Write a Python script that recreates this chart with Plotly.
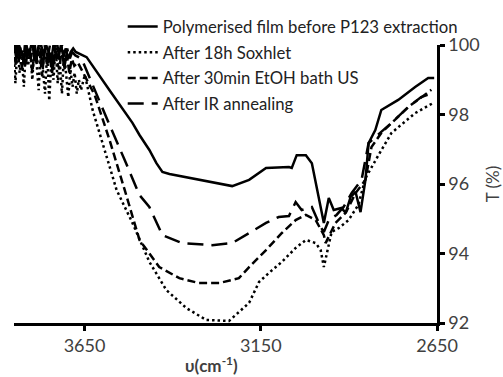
import plotly.graph_objects as go

# Wavenumbers (cm-1) and transmittance (%)
film_x = [3850, 3843, 3836, 3829, 3822, 3815, 3808, 3801, 3794, 3787, 3780, 3773,
          3766, 3759, 3752, 3745, 3738, 3731, 3724, 3717, 3710, 3703, 3696, 3689,
          3682, 3675, 3644, 3579, 3514, 3494, 3466, 3446, 3429, 3409, 3361, 3325,
          3282, 3231, 3183, 3135, 3070, 3062, 3048, 3022, 3005, 2986, 2971, 2957,
          2943, 2921, 2909, 2895, 2881, 2867, 2853, 2844, 2825, 2808, 2760, 2712,
          2675, 2658]
film_y = [100, 99.6, 100, 99.8, 99.5, 100, 99.7, 100, 99.9, 99.6, 100, 100,
          99.7, 100, 99.8, 99.5, 100, 99.8, 99.6, 100, 99.7, 99.9, 99.6, 99.8,
          99.9, 99.8, 99.65, 98.70, 97.76, 97.41, 96.98, 96.60, 96.35, 96.29, 96.20, 96.12,
          96.03, 95.94, 96.12, 96.46, 96.49, 96.46, 96.83, 96.83, 96.60, 95.63, 94.88, 95.60,
          95.25, 95.31, 95.17, 95.63, 95.77, 95.19, 96.12, 97.18, 97.55, 98.13, 98.42, 98.79,
          99.05, 99.05]

soxhlet_x = [3850, 3846, 3840, 3834, 3828, 3822, 3816, 3810, 3804, 3798, 3792, 3786,
             3780, 3774, 3768, 3762, 3756, 3750, 3744, 3738, 3732, 3726, 3720, 3714,
             3708, 3702, 3696, 3690, 3684, 3678, 3672, 3666, 3660, 3649, 3627, 3593,
             3559, 3514, 3466, 3418, 3361, 3305, 3240, 3183, 3155, 3127, 3090, 3051,
             3022, 2994, 2980, 2971, 2963, 2949, 2929, 2901, 2873, 2853, 2816, 2779,
             2712, 2661]
soxhlet_y = [99.6, 98.9, 100, 99.2, 99.7, 98.8, 100, 99.4, 99.9, 99.0, 100, 99.5,
             98.7, 100, 99.3, 98.6, 99.8, 98.4, 99.6, 99.0, 100, 98.9, 99.5, 98.6,
             99.8, 99.1, 98.5, 99.3, 98.8, 99.2, 98.6, 99.0, 98.7, 99.14, 98.13, 96.98,
             95.83, 94.88, 93.76, 92.95, 92.43, 92.09, 92.06, 92.58, 93.18, 93.44, 93.76, 94.16,
             94.39, 94.30, 94.10, 93.61, 93.96, 94.62, 94.73, 94.96, 95.40, 96.17, 96.83, 97.47,
             98.04, 98.33]

etoh_x = [3850, 3845, 3839, 3833, 3826, 3819, 3812, 3805, 3798, 3791, 3784, 3777,
          3770, 3763, 3756, 3749, 3742, 3735, 3728, 3721, 3714, 3707, 3700, 3693,
          3686, 3679, 3669, 3621, 3579, 3536, 3494, 3438, 3381, 3325, 3268, 3212,
          3183, 3135, 3090, 3051, 3022, 2994, 2971, 2966, 2938, 2909, 2881, 2853,
          2836, 2808, 2731, 2666]
etoh_y = [100, 99.4, 100, 99.7, 99.3, 100, 99.6, 99.9, 99.2, 100, 99.5, 99.8,
          99.1, 100, 99.4, 99.7, 99.2, 100, 99.5, 99.3, 100, 99.4, 99.7, 99.2,
          99.6, 99.4, 99.5, 98.56, 97.27, 95.83, 94.39, 93.61, 93.29, 93.15, 93.15, 93.29,
          93.61, 94.10, 94.59, 94.96, 95.11, 94.96, 94.53, 94.30, 94.88, 95.17, 95.74, 96.12,
          97.06, 97.47, 98.22, 98.71]

ir_x = [3850, 3844, 3837, 3831, 3824, 3817, 3811, 3804, 3797, 3790, 3783, 3776,
        3769, 3762, 3755, 3748, 3741, 3734, 3727, 3720, 3713, 3706, 3699, 3692,
        3685, 3676, 3658, 3621, 3579, 3536, 3494, 3466, 3446, 3429, 3373, 3288,
        3231, 3183, 3135, 3099, 3070, 3051, 3034, 3005, 2980, 2971, 2957, 2935,
        2915, 2892, 2864, 2844, 2779, 2731, 2695, 2661]
ir_y = [99.8, 100, 99.5, 100, 99.7, 99.3, 100, 99.6, 100, 99.4, 99.8, 100,
        99.3, 99.9, 99.6, 100, 99.2, 99.8, 100, 99.5, 99.7, 99.3, 99.9, 99.6,
        99.8, 99.7, 99.6, 98.70, 97.70, 96.69, 95.68, 95.34, 94.88, 94.53, 94.30, 94.24,
        94.30, 94.59, 94.88, 95.05, 95.08, 95.48, 95.25, 95.34, 94.76, 94.62, 94.96, 95.11,
        95.34, 95.74, 96.12, 97.18, 97.76, 98.22, 98.50, 98.62]

names = ["Polymerised film before P123 extraction", "After 18h Soxhlet",
         "After 30min EtOH bath US", "After IR annealing"]
x_ticks = [3650, 3150, 2650]
y_ticks = [92, 94, 96, 98, 100]

series = [(film_x, film_y, "solid", 2.5),
          (soxhlet_x, soxhlet_y, "2.5px,3px", 2.5),
          (etoh_x, etoh_y, "8px,4px", 2.5),
          (ir_x, ir_y, "16px,8px", 2.5)]

fig = go.Figure()
for i, ((xs, ys, dash, w), nm) in enumerate(zip(series, names)):
    fig.add_trace(go.Scatter(x=xs, y=ys, mode="lines", name=nm,
                             legendgroup=f"g{i}",
                             line=dict(color="black", width=w, dash=dash)))

fig.add_annotation(text="<b>υ(cm<sup>-1</sup>)</b>", xref="paper", yref="paper",
                   x=0.466, y=-0.148, xanchor="center", yanchor="middle",
                   showarrow=False, font=dict(size=17, color="#404040"))

fig.update_layout(
    width=503, height=377,
    margin=dict(l=14, r=66, t=45, b=54, autoexpand=False),
    plot_bgcolor="white", paper_bgcolor="white",
    font=dict(family="Lato", color="#404040"),
    showlegend=True,
    legend=dict(x=0.257, y=1.129, xanchor="left", yanchor="top",
                bgcolor="rgba(0,0,0,0)", font=dict(size=16.7, color="#222222"),
                traceorder="grouped", tracegroupgap=1,
                itemwidth=30),
    xaxis=dict(range=[3850, 2650], tickvals=x_ticks, ticks="outside",
               ticklen=5, tickwidth=2.5, tickcolor="black", automargin=False,
               showline=True, linecolor="black", linewidth=2.5,
               showgrid=False, zeroline=False,
               tickfont=dict(size=18, color="#404040")),
    yaxis=dict(range=[92, 100], tickvals=y_ticks, side="right", ticks="outside",
               ticklen=5, tickwidth=2.5, tickcolor="black", automargin=False,
               showline=True, linecolor="black", linewidth=2.5,
               showgrid=False, zeroline=False,
               tickfont=dict(size=18, color="#404040"),
               title=dict(text="T (%)", font=dict(size=17, color="#404040"),
                          standoff=15)),
)

fig.write_html("out.html")
